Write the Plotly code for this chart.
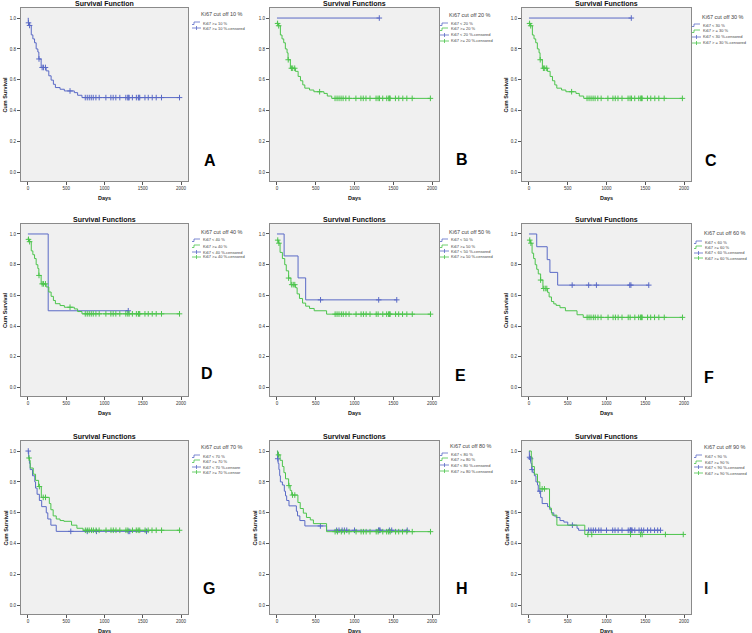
import numpy as np
import plotly.graph_objects as go

W, H = 752, 633
BLUE = "#5a6ac6"
GREEN = "#4cc44c"
FONT = "Liberation Sans, Arial, sans-serif"

# ---------------- data ----------------
# Panel A : whole cohort (Ki67 >= 10 %)
all_t = [0, 5, 22, 44, 65, 87, 108, 130, 143, 173, 238, 273, 303, 333, 359, 420, 476, 606, 649, 706]
all_s = [1.0, 0.969, 0.952, 0.891, 0.865, 0.84, 0.80, 0.78, 0.735, 0.68, 0.658, 0.626, 0.598, 0.571, 0.55, 0.539, 0.528, 0.517, 0.50, 0.485]
all_c = [8, 22, 145, 186, 203, 229, 550, 749, 775, 801, 827, 853, 888, 931, 1018, 1083, 1113, 1148, 1200,
         1278, 1304, 1310, 1322, 1364, 1416, 1442, 1450, 1460, 1528, 1571, 1623, 1675, 1744, 1979]

# high group for cut-offs 20/30/40 %
hi_t = [0, 5, 22, 44, 65, 87, 108, 130, 143, 173, 238, 273, 303, 333, 359, 420, 476, 606, 649, 706]
hi_s = [0.975, 0.965, 0.95, 0.89, 0.865, 0.84, 0.80, 0.775, 0.73, 0.675, 0.655, 0.622, 0.594, 0.567, 0.546, 0.534, 0.523, 0.512, 0.495, 0.48]
hi_c = [8, 22, 145, 186, 203, 229, 550, 749, 775, 801, 827, 853, 888, 931, 1018, 1083, 1113, 1148, 1200,
        1278, 1304, 1322, 1364, 1416, 1442, 1450, 1460, 1528, 1571, 1623, 1675, 1744, 1979]

# 20 % / 30 % low group
lo20_t = [0]
lo20_s = [1.0]
lo20_c = [1320]

# 40 %
lo40_t = [0, 265]
lo40_s = [1.0, 0.5]
lo40_c = [1310]

# 50 %
lo50_t = [0, 92, 272, 370]
lo50_s = [1.0, 0.857, 0.714, 0.571]
lo50_c = [562, 1312, 1545]
hi50_t = [0, 20, 40, 70, 100, 120, 150, 180, 240, 260, 290, 330, 370, 420, 480, 640]
hi50_s = [0.96, 0.94, 0.88, 0.84, 0.80, 0.76, 0.713, 0.67, 0.65, 0.61, 0.58, 0.55, 0.53, 0.515, 0.50, 0.478]
hi50_c = [10, 25, 150, 190, 210, 230, 750, 775, 800, 830, 855, 890, 930, 1020, 1085, 1115, 1150, 1200,
          1280, 1305, 1365, 1415, 1440, 1450, 1460, 1530, 1570, 1620, 1675, 1745, 1980]

# 60 %
lo60_t = [0, 100, 235, 270, 370]
lo60_s = [1.0, 0.917, 0.833, 0.75, 0.667]
lo60_c = [557, 770, 870, 1300, 1315, 1545]
hi60_t = [0, 20, 40, 60, 80, 100, 120, 150, 180, 240, 260, 290, 320, 350, 400, 470, 620, 700]
hi60_s = [0.96, 0.94, 0.875, 0.84, 0.80, 0.77, 0.74, 0.70, 0.645, 0.62, 0.59, 0.56, 0.545, 0.535, 0.52, 0.50, 0.474, 0.457]
hi60_c = [10, 25, 150, 190, 210, 230, 750, 775, 800, 830, 855, 890, 930, 1020, 1085, 1115, 1150, 1200,
          1280, 1305, 1365, 1415, 1440, 1450, 1460, 1530, 1570, 1620, 1675, 1745, 1980]

# 70 %
lo70_t = [0, 10, 20, 30, 60, 90, 100, 120, 150, 180, 240, 260, 300, 370]
lo70_s = [1.0, 0.96, 0.92, 0.88, 0.84, 0.80, 0.76, 0.72, 0.68, 0.64, 0.60, 0.56, 0.52, 0.48]
lo70_c = [5, 560, 775, 895, 1310, 1330, 1548]
hi70_t = [0, 20, 30, 70, 100, 140, 175, 280, 300, 330, 370, 420, 470, 570, 640, 720]
hi70_s = [0.955, 0.94, 0.89, 0.85, 0.81, 0.77, 0.70, 0.66, 0.62, 0.58, 0.56, 0.55, 0.545, 0.52, 0.50, 0.487]
hi70_c = [15, 150, 200, 230, 750, 775, 800, 830, 855, 890, 930, 1020, 1085, 1115, 1150, 1200,
          1280, 1305, 1365, 1415, 1440, 1460, 1530, 1570, 1620, 1675, 1745, 1980]

# 80 %
lo80_t = [0, 8, 15, 25, 35, 44, 70, 95, 110, 125, 155, 250, 265, 295, 360, 640]
lo80_s = [1.0, 0.95, 0.92, 0.88, 0.84, 0.80, 0.78, 0.74, 0.71, 0.68, 0.645, 0.61, 0.58, 0.55, 0.515, 0.487]
lo80_c = [10, 560, 770, 800, 840, 870, 900, 1000, 1310, 1320, 1330, 1450, 1480, 1680]
hi80_t = [0, 10, 40, 70, 90, 110, 150, 170, 190, 270, 300, 340, 380, 430, 470, 640]
hi80_s = [1.0, 0.975, 0.94, 0.90, 0.86, 0.82, 0.776, 0.745, 0.715, 0.667, 0.628, 0.598, 0.57, 0.554, 0.53, 0.478]
hi80_c = [20, 155, 200, 230, 750, 780, 830, 870, 930, 1020, 1085, 1115, 1150, 1200, 1280, 1305,
          1365, 1415, 1440, 1460, 1530, 1570, 1620, 1675, 1745, 1980]

# 90 %
lo90_t = [0, 5, 15, 25, 35, 50, 70, 90, 110, 120, 150, 170, 240, 270, 290, 320, 350, 400, 450, 500, 620, 640]
lo90_s = [1.0, 0.96, 0.95, 0.92, 0.88, 0.86, 0.84, 0.80, 0.78, 0.74, 0.70, 0.66, 0.64, 0.62, 0.60, 0.58, 0.57, 0.55, 0.54, 0.52, 0.50, 0.487]
lo90_c = [8, 20, 40, 140, 560, 770, 800, 830, 860, 900, 930, 1000, 1080, 1110, 1150, 1200, 1280, 1305,
          1310, 1320, 1330, 1365, 1420, 1450, 1480, 1530, 1570, 1620, 1660, 1697]
hi90_t = [0, 30, 40, 70, 110, 140, 265, 290, 300, 360, 720]
hi90_s = [1.0, 0.96, 0.90, 0.85, 0.80, 0.755, 0.63, 0.60, 0.585, 0.52, 0.46]
hi90_c = [170, 200, 760, 810, 1310, 1440, 1460, 1760, 1990]

letters = ["A", "B", "C", "D", "E", "F", "G", "H", "I"]
cutoffs = [10, 20, 30, 40, 50, 60, 70, 80, 90]
titles = ["Survival Function"] + ["Survival Functions"] * 8
x_ticks = [0, 500, 1000, 1500, 2000]
y_ticks = [0.0, 0.2, 0.4, 0.6, 0.8, 1.0]

panel_series = [
    [(all_t, all_s, all_c, BLUE)],
    [(lo20_t, lo20_s, lo20_c, BLUE), (hi_t, hi_s, hi_c, GREEN)],
    [(lo20_t, lo20_s, lo20_c, BLUE), (hi_t, hi_s, hi_c, GREEN)],
    [(lo40_t, lo40_s, lo40_c, BLUE), (hi_t, hi_s, hi_c, GREEN)],
    [(lo50_t, lo50_s, lo50_c, BLUE), (hi50_t, hi50_s, hi50_c, GREEN)],
    [(lo60_t, lo60_s, lo60_c, BLUE), (hi60_t, hi60_s, hi60_c, GREEN)],
    [(lo70_t, lo70_s, lo70_c, BLUE), (hi70_t, hi70_s, hi70_c, GREEN)],
    [(lo80_t, lo80_s, lo80_c, BLUE), (hi80_t, hi80_s, hi80_c, GREEN)],
    [(lo90_t, lo90_s, lo90_c, BLUE), (hi90_t, hi90_s, hi90_c, GREEN)],
]

def legend_labels(i, c):
    if i == 0:
        return [f"Ki67 >= {c} %", f"Ki67 >= {c} %-censored"], [BLUE, BLUE], ["line", "cens"]
    ge = "> =" if c == 30 else ">="
    lab = [f"Ki67 < {c} %", f"Ki67 {ge} {c} %", f"Ki67 < {c} %-censored", f"Ki67 {ge} {c} %-censored"]
    if c == 70:
        lab[2] = "Ki67 < 70 %-censore"
        lab[3] = "Ki67 >= 70 %-censor"
    return lab, [BLUE, GREEN, BLUE, GREEN], ["line", "line", "cens", "cens"]

# ---------------- layout geometry (pixels) ----------------
cols = [(21, 188), (270, 439), (522, 691)]
rows = [(8, 181), (224, 396), (441, 614)]
title_y = [4, 220, 436]
leg_title = [(199, 14), (447, 15), (700, 17), (199, 232), (447, 232), (702, 233), (199, 447), (448, 446), (702, 447)]
leg_x0 = [192, 440, 692, 192, 440, 694, 192, 440, 694]
leg_rows = [[23, 28], [24, 29, 35, 41], [25, 31, 37, 43], [240, 246, 252, 257], [240, 246, 251, 257],
            [242, 247, 253, 258], [456, 461, 467, 472], [454, 459, 465, 471], [456, 462, 467, 473]]
letter_pos = [(210, 160), (462, 159), (711, 160), (207, 373), (460, 375), (709, 377), (209, 588), (462, 588), (706, 588)]

def px(x):
    return x / W

def py(y):
    return 1 - y / H

fig = go.Figure()
annotations = []
shapes = []
layout = {}

for k in range(9):
    r, c = divmod(k, 3)
    xa = "x" if k == 0 else f"x{k+1}"
    ya = "y" if k == 0 else f"y{k+1}"
    for (t, s, cens, col) in panel_series[k]:
        t = np.asarray(t, float)
        s = np.asarray(s, float)
        cens = np.asarray(cens, float)
        t_end = max(t[-1], cens.max())
        xs = np.append(t, t_end)
        ys = np.append(s, s[-1])
        fig.add_trace(go.Scatter(x=xs, y=ys, mode="lines", line=dict(color=col, width=1, shape="hv"),
                                 xaxis=xa, yaxis=ya, showlegend=False, hoverinfo="skip"))
        idx = np.searchsorted(t, cens, side="right") - 1
        fig.add_trace(go.Scatter(x=cens, y=s[idx], mode="markers",
                                 marker=dict(symbol="cross-thin", size=4, line=dict(color=col, width=1)),
                                 xaxis=xa, yaxis=ya, showlegend=False, hoverinfo="skip"))
    x0, x1 = cols[c]
    y0, y1 = rows[r]
    axis_common = dict(showgrid=False, zeroline=False, showline=True, mirror=True, linecolor="#8a8a8a",
                       linewidth=1, ticks="outside", ticklen=3, tickcolor="#555555",
                       tickfont=dict(size=4.5, family=FONT, color="#333333"))
    layout["xaxis" if k == 0 else f"xaxis{k+1}"] = dict(domain=[px(x0), px(x1)], anchor=ya, range=[-90, 2090],
                                                         tickvals=x_ticks, **axis_common)
    layout["yaxis" if k == 0 else f"yaxis{k+1}"] = dict(domain=[py(y1), py(y0)], anchor=xa, range=[-0.055, 1.065],
                                                         tickvals=y_ticks, tickformat=".1f", **axis_common)
    # panel title
    annotations.append(dict(text=f"<b>{titles[k]}</b>", x=px((x0 + x1) / 2), y=py(title_y[r]), xref="paper",
                            yref="paper", showarrow=False, font=dict(size=7, family=FONT, color="#111111"),
                            xanchor="center", yanchor="middle"))
    # axis titles
    annotations.append(dict(text="<b>Days</b>", x=px((x0 + x1) / 2), y=py(y1 + 17), xref="paper", yref="paper",
                            showarrow=False, font=dict(size=5.5, family=FONT, color="#111111"),
                            xanchor="center", yanchor="middle"))
    if c != 1 or k == 7:
        annotations.append(dict(text="<b>Cum Survival</b>", x=px(x0 - 16), y=py((y0 + y1) / 2), xref="paper",
                                yref="paper", showarrow=False, textangle=-90,
                                font=dict(size=5.5, family=FONT, color="#111111"),
                                xanchor="center", yanchor="middle"))
    # panel letter
    lx, ly = letter_pos[k]
    annotations.append(dict(text=f"<b>{letters[k]}</b>", x=px(lx), y=py(ly), xref="paper", yref="paper",
                            showarrow=False, font=dict(size=16, family=FONT, color="#000000"),
                            xanchor="center", yanchor="middle"))
    # legend (drawn by hand, SPSS style)
    tx, ty = leg_title[k]
    annotations.append(dict(text=f"Ki67 cut off {cutoffs[k]} %", x=px(tx), y=py(ty), xref="paper", yref="paper",
                            showarrow=False, font=dict(size=5.5, family=FONT, color="#444444"),
                            xanchor="left", yanchor="middle"))
    labs, lcols, ltypes = legend_labels(k, cutoffs[k])
    lx0 = leg_x0[k]
    for lab, lc, lt, ry in zip(labs, lcols, ltypes, leg_rows[k]):
        if lt == "line":
            path = (f"M {px(lx0)},{py(ry + 1.5)} L {px(lx0 + 2)},{py(ry + 1.5)} L {px(lx0 + 2)},{py(ry - 1)} "
                    f"L {px(lx0 + 8)},{py(ry - 1)}")
            shapes.append(dict(type="path", path=path, xref="paper", yref="paper",
                               line=dict(color=lc, width=0.8)))
        else:
            shapes.append(dict(type="line", x0=px(lx0), x1=px(lx0 + 9), y0=py(ry), y1=py(ry), xref="paper",
                               yref="paper", line=dict(color=lc, width=0.8)))
            shapes.append(dict(type="line", x0=px(lx0 + 4.5), x1=px(lx0 + 4.5), y0=py(ry - 2), y1=py(ry + 2),
                               xref="paper", yref="paper", line=dict(color=lc, width=0.8)))
        annotations.append(dict(text=lab, x=px(lx0 + 8.5), y=py(ry), xref="paper", yref="paper", showarrow=False,
                                font=dict(size=4, family=FONT, color="#444444"), xanchor="left",
                                yanchor="middle"))

fig.update_layout(width=W, height=H, margin=dict(l=0, r=0, t=0, b=0), paper_bgcolor="white",
                  plot_bgcolor="#f0f0f0", showlegend=False, annotations=annotations, shapes=shapes, **layout)
fig.write_html("out.html", config={"displayModeBar": False, "staticPlot": True},
               post_script="document.body.style.margin='0px';document.body.style.overflow='hidden';")
